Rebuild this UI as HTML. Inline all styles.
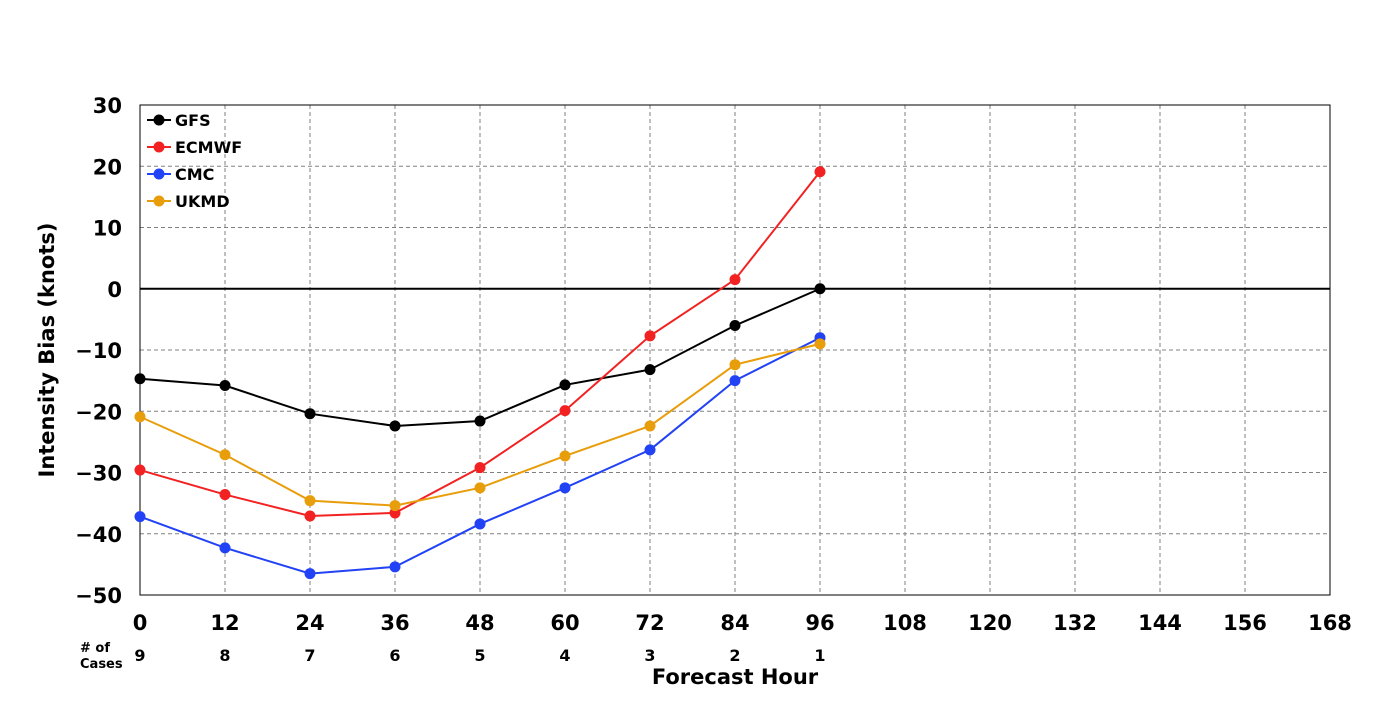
<!DOCTYPE html>
<html><head><meta charset="utf-8"><style>
body{margin:0;background:#fff;font-family:"DejaVu Sans","Liberation Sans",sans-serif;}
svg text{font-family:"DejaVu Sans","Liberation Sans",sans-serif;font-weight:bold;}
</style></head><body>
<svg id="chart" width="1400" height="700" xmlns="http://www.w3.org/2000/svg"></svg>
<script>
const hours=[0,12,24,36,48,60,72,84,96];
const cases=[9,8,7,6,5,4,3,2,1];
const gfs=[-14.7,-15.8,-20.4,-22.4,-21.6,-15.7,-13.2,-6.0,0];
const ecmwf=[-29.6,-33.6,-37.1,-36.6,-29.2,-19.9,-7.7,1.5,19.1];
const cmc=[-37.2,-42.3,-46.5,-45.4,-38.4,-32.5,-26.3,-15.0,-8.0];
const ukmd=[-20.9,-27.1,-34.6,-35.4,-32.5,-27.3,-22.4,-12.4,-9.0];
const xTicks=[0,12,24,36,48,60,72,84,96,108,120,132,144,156,168];
const yTicks=[30,20,10,0,-10,-20,-30,-40,-50];
const seriesNames=["GFS","ECMWF","CMC","UKMD"];
const seriesData=[gfs,ecmwf,cmc,ukmd];
const colors=["#000000","#f22222","#2242f5","#e89d0a"];

const L=140,R=1330,T=105,B=595;
const xs=h=>L+(h-0)/(168-0)*(R-L);
const ys=v=>T+(30-v)/(80)*(B-T);
const svg=document.getElementById('chart');
const NS="http://www.w3.org/2000/svg";
function mk(tag,attrs,parent){const e=document.createElementNS(NS,tag);for(const k in attrs)e.setAttribute(k,attrs[k]);(parent||svg).appendChild(e);return e;}

// grid
xTicks.forEach(t=>{
  if(t>0&&t<168){const g=mk('line',{x1:xs(t),x2:xs(t),y1:T,y2:B,stroke:'#808080','stroke-dasharray':'4,3','stroke-width':1});
  
  }
  const tx=mk('text',{x:xs(t),y:B+35,'text-anchor':'middle','font-size':21});
  tx.textContent=t;
  
  
});
yTicks.forEach(t=>{
  if(t!==0&&t!==30&&t!==-50){const g=mk('line',{x1:L,x2:R,y1:ys(t),y2:ys(t),stroke:'#808080','stroke-dasharray':'4,3','stroke-width':1});
  
  }
  const tx=mk('text',{x:L-18,y:ys(t)+8,'text-anchor':'end','font-size':21});
  tx.textContent=t<0?'\u2212'+Math.abs(t):t;
  
  
});
const zl=mk('line',{x1:L,x2:R,y1:ys(0),y2:ys(0),stroke:'#000','stroke-width':2});


const fr=mk('rect',{x:L,y:T,width:R-L,height:B-T,fill:'none',stroke:'#000','stroke-width':1});



// series
seriesData.forEach((d,i)=>{
  const g=mk('g',{});
  
  
  const pl=mk('polyline',{points:d.map((v,j)=>xs(hours[j])+','+ys(v)).join(' '),fill:'none',stroke:colors[i],'stroke-width':2},g);
  
  
  d.forEach((v,j)=>{
    const c=mk('circle',{cx:xs(hours[j]),cy:ys(v),r:5.5,fill:colors[i]},g);
    
    
  });
});

// legend
seriesNames.forEach((n,i)=>{
  const y=120+i*27;
  const g=mk('g',{});
  
  
  mk('line',{x1:147,x2:171,y1:y,y2:y,stroke:colors[i],'stroke-width':2},g);
  mk('circle',{cx:159,cy:y,r:5.5,fill:colors[i]},g);
  const t=mk('text',{x:175,y:y+6,'font-size':16},g);t.textContent=n;
});

// cases
const cl=mk('text',{x:80,y:652,'font-size':13});cl.textContent='# of';


const cl2=mk('text',{x:80,y:668,'font-size':13});cl2.textContent='Cases';


cases.forEach((c,j)=>{
  const t=mk('text',{x:xs(hours[j]),y:661,'text-anchor':'middle','font-size':16});
  t.textContent=c;
  
  
});

// axis titles
const xt=mk('text',{x:735,y:684,'text-anchor':'middle','font-size':21});xt.textContent='Forecast Hour';


const yt=mk('text',{x:0,y:0,'text-anchor':'middle','font-size':21,transform:'translate(54,350) rotate(-90)'});yt.textContent='Intensity Bias (knots)';


</script>
</body></html>
